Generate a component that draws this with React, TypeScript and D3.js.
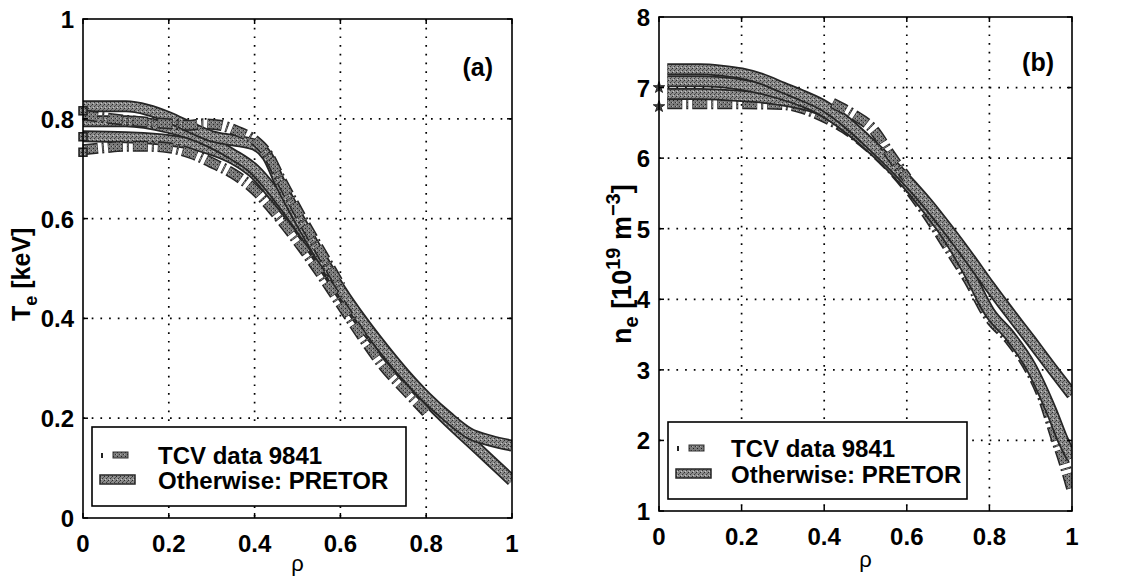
import React from "react";
import * as d3 from "d3";

// ---------- data ----------
const rhoTicks = [0, 0.2, 0.4, 0.6, 0.8, 1];
const rhoTickLabels = ["0", "0.2", "0.4", "0.6", "0.8", "1"];
const teTicks = [0, 0.2, 0.4, 0.6, 0.8, 1];
const teTickLabels = ["0", "0.2", "0.4", "0.6", "0.8", "1"];
const neTicks = [1, 2, 3, 4, 5, 6, 7, 8];
const neTickLabels = ["1", "2", "3", "4", "5", "6", "7", "8"];
const legendLabels = ["TCV data 9841", "Otherwise: PRETOR"];

// Panel (a): Te [keV] vs rho
const pretorTeHigh: [number, number][] = [
  [0, 0.825], [0.1, 0.825], [0.15, 0.818], [0.2, 0.803], [0.25, 0.783], [0.3, 0.765],
  [0.35, 0.757], [0.4, 0.748], [0.43, 0.725], [0.46, 0.67], [0.5, 0.605], [0.55, 0.53],
  [0.6, 0.458], [0.65, 0.396], [0.7, 0.34], [0.75, 0.288], [0.8, 0.242], [0.85, 0.203],
  [0.9, 0.17], [0.95, 0.155], [1, 0.145],
];
const pretorTeMid: [number, number][] = [
  [0, 0.795], [0.1, 0.795], [0.2, 0.782], [0.25, 0.77], [0.3, 0.752], [0.35, 0.728],
  [0.4, 0.698], [0.45, 0.648], [0.5, 0.59], [0.55, 0.525], [0.6, 0.455],
];
const pretorTeLow: [number, number][] = [
  [0, 0.765], [0.1, 0.763], [0.2, 0.757], [0.25, 0.75], [0.3, 0.738], [0.35, 0.72],
  [0.4, 0.69], [0.45, 0.64], [0.5, 0.585], [0.55, 0.52], [0.6, 0.452], [0.65, 0.39],
  [0.7, 0.335], [0.75, 0.284], [0.8, 0.238], [0.85, 0.195], [0.9, 0.155], [0.95, 0.115],
  [1, 0.075],
];
const dataTeUpper: [number, number][] = [
  [0, 0.808], [0.05, 0.802], [0.1, 0.797], [0.15, 0.793], [0.2, 0.79], [0.25, 0.787],
  [0.28, 0.79], [0.32, 0.787], [0.36, 0.775], [0.4, 0.757], [0.43, 0.73], [0.46, 0.68],
  [0.49, 0.632], [0.52, 0.585], [0.56, 0.525], [0.6, 0.465],
];
const dataTeLower: [number, number][] = [
  [0, 0.738], [0.05, 0.742], [0.1, 0.745], [0.15, 0.745], [0.2, 0.742], [0.26, 0.728],
  [0.3, 0.712], [0.35, 0.69], [0.4, 0.658], [0.45, 0.61], [0.5, 0.555], [0.55, 0.495],
  [0.6, 0.43], [0.65, 0.365], [0.7, 0.305], [0.75, 0.258], [0.8, 0.212],
];
const dataTeEdge = [0.816, 0.764, 0.733];

// Panel (b): ne [1e19 m^-3] vs rho
const pretorNeHigh: [number, number][] = [
  [0.02, 7.26], [0.1, 7.26], [0.15, 7.24], [0.2, 7.2], [0.25, 7.12], [0.3, 7.0],
  [0.35, 6.88], [0.4, 6.74], [0.45, 6.53], [0.5, 6.27], [0.55, 5.99], [0.6, 5.69],
  [0.65, 5.36], [0.7, 4.99], [0.75, 4.6], [0.8, 4.19], [0.85, 3.8], [0.9, 3.42],
  [0.95, 3.03], [1, 2.65],
];
const pretorNeMid: [number, number][] = [
  [0.02, 7.09], [0.1, 7.09], [0.2, 7.04], [0.25, 6.98], [0.3, 6.9], [0.35, 6.8],
  [0.4, 6.66], [0.45, 6.46], [0.5, 6.22], [0.55, 5.95], [0.6, 5.64], [0.65, 5.28],
  [0.7, 4.88], [0.75, 4.38], [0.8, 3.82], [0.85, 3.48], [0.9, 3.05], [0.95, 2.42],
  [0.98, 1.98], [1, 1.75],
];
const pretorNeLow: [number, number][] = [
  [0.02, 6.91], [0.1, 6.91], [0.2, 6.88], [0.3, 6.82], [0.4, 6.66], [0.5, 6.22],
];
const dataNe: [number, number][] = [
  [0.02, 6.77], [0.1, 6.77], [0.2, 6.77], [0.3, 6.76], [0.35, 6.7], [0.4, 6.58],
  [0.45, 6.42], [0.5, 6.2], [0.55, 5.93], [0.6, 5.6], [0.65, 5.2], [0.7, 4.74],
  [0.75, 4.27], [0.8, 3.74], [0.85, 3.42], [0.9, 2.98], [0.93, 2.6], [0.96, 2.05],
  [0.98, 1.7], [1, 1.3],
];
const dataNeUpper: [number, number][] = [
  [0.42, 6.78], [0.47, 6.62], [0.52, 6.4], [0.56, 6.05], [0.6, 5.72],
];
const dataNeEdge = [7.0, 6.73];

// ---------- layout ----------
const W = 1132;
const H = 579;
const FONT = "'Liberation Sans', Arial, Helvetica, sans-serif";

type Series = { pts: [number, number][]; kind: "pretor" | "data" };

function Band({ d, kind }: { d: string; kind: "pretor" | "data" }) {
  if (kind === "pretor") {
    return (
      <g>
        <path d={d} fill="none" stroke="#262626" strokeWidth={12} strokeLinejoin="round" />
        <path d={d} fill="none" stroke="url(#spk)" strokeWidth={8.5} strokeLinejoin="round" />
      </g>
    );
  }
  return (
    <g>
      <path d={d} fill="none" stroke="#262626" strokeWidth={11} strokeDasharray="15 4 2 4" />
      <path d={d} fill="none" stroke="url(#spk2)" strokeWidth={8} strokeDasharray="14 5 1 5" strokeDashoffset={-0.5} />
    </g>
  );
}

function Panel(props: {
  x0: number; x1: number; y0: number; y1: number;
  yDomain: [number, number]; yTicks: number[]; yTickLabels: string[];
  series: Series[]; tag: string; tagX: number; tagY: number;
  legend: { x0: number; y0: number; x1: number; y1: number; tx: number; b1: number; b2: number };
  rhoY: number; edgeMarks: number[]; edgeShape: "square" | "star"; clipId: string;
}) {
  const { x0, x1, y0, y1 } = props;
  const x = d3.scaleLinear().domain([0, 1]).range([x0, x1]);
  const y = d3.scaleLinear().domain(props.yDomain).range([y1, y0]);
  const line = d3.line<[number, number]>().x((p) => x(p[0])).y((p) => y(p[1])).curve(d3.curveMonotoneX);
  const L = props.legend;
  return (
    <g>
      <defs>
        <clipPath id={props.clipId}><rect x={x0 - 5} y={y0 - 4} width={x1 - x0 + 5} height={y1 - y0 + 4} /></clipPath>
      </defs>
      {rhoTicks.slice(1, -1).map((t) => (
        <line key={"gx" + t} x1={x(t)} x2={x(t)} y1={y0} y2={y1} stroke="#000" strokeWidth={1.7} strokeDasharray="1.7 7" />
      ))}
      {props.yTicks.slice(1, -1).map((t) => (
        <line key={"gy" + t} x1={x0} x2={x1} y1={y(t)} y2={y(t)} stroke="#000" strokeWidth={1.7} strokeDasharray="1.7 7" />
      ))}
      <g clipPath={`url(#${props.clipId})`}>
        {props.series.map((s, i) => (
          <Band key={i} d={line(s.pts) || ""} kind={s.kind} />
        ))}
      </g>
      {props.edgeMarks.map((v, i) =>
        props.edgeShape === "square" ? (
          <rect key={"em" + i} x={x(0) - 4} y={y(v) - 4} width={8} height={8} fill="url(#spk2)" stroke="#222" strokeWidth={1.5} />
        ) : (
          <path key={"em" + i} d={d3.symbol(d3.symbolStar, 40)() || ""} transform={`translate(${x(0)},${y(v)})`} fill="#444" stroke="#222" />
        )
      )}
      <rect x={x0} y={y0} width={x1 - x0} height={y1 - y0} fill="none" stroke="#000" strokeWidth={1.6} />
      {rhoTicks.map((t) => (
        <g key={"tx" + t}>
          <line x1={x(t)} x2={x(t)} y1={y1} y2={y1 - 5} stroke="#000" strokeWidth={1.5} />
          <line x1={x(t)} x2={x(t)} y1={y0} y2={y0 + 5} stroke="#000" strokeWidth={1.5} />
        </g>
      ))}
      {props.yTicks.map((t) => (
        <g key={"ty" + t}>
          <line x1={x0} x2={x0 + 5} y1={y(t)} y2={y(t)} stroke="#000" strokeWidth={1.5} />
          <line x1={x1} x2={x1 - 5} y1={y(t)} y2={y(t)} stroke="#000" strokeWidth={1.5} />
        </g>
      ))}
      {rhoTicks.map((t, i) => (
        <text key={"lx" + t} x={x(t)} y={y1 + 34} textAnchor="middle" fontFamily={FONT} fontWeight="bold" fontSize={24}>
          {rhoTickLabels[i]}
        </text>
      ))}
      {props.yTicks.map((t, i) => (
        <text key={"ly" + t} x={x0 - 9} y={y(t) + 9} textAnchor="end" fontFamily={FONT} fontWeight="bold" fontSize={24}>
          {props.yTickLabels[i]}
        </text>
      ))}
      <text x={(x0 + x1) / 2} y={props.rhoY} textAnchor="middle" fontFamily={FONT} fontSize={22}>ρ</text>
      <text x={props.tagX} y={props.tagY} textAnchor="end" fontFamily={FONT} fontWeight="bold" fontSize={25}>{props.tag}</text>
      <rect x={L.x0} y={L.y0} width={L.x1 - L.x0} height={L.y1 - L.y0} fill="#fff" stroke="#000" strokeWidth={1.6} />
      <line x1={L.x0 + 10} x2={L.x0 + 10} y1={L.b1 - 11} y2={L.b1 - 6} stroke="#222" strokeWidth={2} />
      <rect x={L.x0 + 21} y={L.b1 - 12} width={15} height={6} fill="url(#spk2)" stroke="#333" strokeWidth={1} />
      <rect x={L.x0 + 8} y={L.b2 - 14} width={35} height={9} fill="url(#spk)" stroke="#262626" strokeWidth={1.5} />
      <text x={L.tx} y={L.b1} fontFamily={FONT} fontWeight="bold" fontSize={24}>{legendLabels[0]}</text>
      <text x={L.tx} y={L.b2} fontFamily={FONT} fontWeight="bold" fontSize={24}>{legendLabels[1]}</text>
    </g>
  );
}

export default function App() {
  const seriesA: Series[] = [
    { pts: pretorTeLow, kind: "pretor" },
    { pts: pretorTeMid, kind: "pretor" },
    { pts: pretorTeHigh, kind: "pretor" },
    { pts: dataTeLower, kind: "data" },
    { pts: dataTeUpper, kind: "data" },
  ];
  const seriesB: Series[] = [
    { pts: dataNe, kind: "data" },
    { pts: pretorNeLow, kind: "pretor" },
    { pts: pretorNeMid, kind: "pretor" },
    { pts: pretorNeHigh, kind: "pretor" },
    { pts: dataNeUpper, kind: "data" },
  ];
  return (
    <svg width={W} height={H} style={{ position: "absolute", left: 0, top: 0, background: "#fff" }}>
      <defs>
        <pattern id="spk" width="4" height="4" patternUnits="userSpaceOnUse">
          <rect width="4" height="4" fill="#8a8a8a" />
          <rect x="0" y="0" width="1" height="1" fill="#2a2a2a" />
          <rect x="2" y="2" width="1" height="1" fill="#3a3a3a" />
          <rect x="3" y="1" width="1" height="1" fill="#555" />
          <rect x="1" y="3" width="1" height="1" fill="#c8c8c8" />
        </pattern>
        <pattern id="spk2" width="4" height="4" patternUnits="userSpaceOnUse">
          <rect width="4" height="4" fill="#7a7a7a" />
          <rect x="1" y="0" width="1" height="1" fill="#222" />
          <rect x="3" y="2" width="1" height="1" fill="#333" />
          <rect x="0" y="2" width="1" height="1" fill="#b0b0b0" />
        </pattern>
      </defs>
      <rect width={W} height={H} fill="#fff" />
      <Panel
        x0={83} x1={512} y0={19} y1={518}
        yDomain={[0, 1]} yTicks={teTicks} yTickLabels={teTickLabels}
        series={seriesA} tag="(a)" tagX={493} tagY={76}
        legend={{ x0: 92, y0: 427, x1: 406, y1: 506, tx: 158, b1: 464, b2: 489 }}
        rhoY={571} edgeMarks={dataTeEdge} edgeShape="square" clipId="clipA"
      />
      <Panel
        x0={659} x1={1072} y0={17} y1={511}
        yDomain={[1, 8]} yTicks={neTicks} yTickLabels={neTickLabels}
        series={seriesB} tag="(b)" tagX={1054} tagY={71}
        legend={{ x0: 668, y0: 422, x1: 967, y1: 499, tx: 731, b1: 457, b2: 483 }}
        rhoY={567} edgeMarks={dataNeEdge} edgeShape="star" clipId="clipB"
      />
      <text transform="translate(30,321) rotate(-90)" fontFamily={FONT} fontWeight="bold" fontSize={25}>
        T<tspan fontSize={18} dy={7}>e</tspan><tspan dy={-7}> [keV]</tspan>
      </text>
      <text transform="translate(631,344) rotate(-90)" fontFamily={FONT} fontWeight="bold" fontSize={27}>
        n<tspan fontSize={20} dy={7}>e</tspan>
        <tspan dy={-7}> [10</tspan><tspan fontSize={20} dy={-11}>19</tspan>
        <tspan dy={11}> m</tspan><tspan fontSize={20} dy={-11}>−3</tspan><tspan dy={11}>]</tspan>
      </text>
    </svg>
  );
}
